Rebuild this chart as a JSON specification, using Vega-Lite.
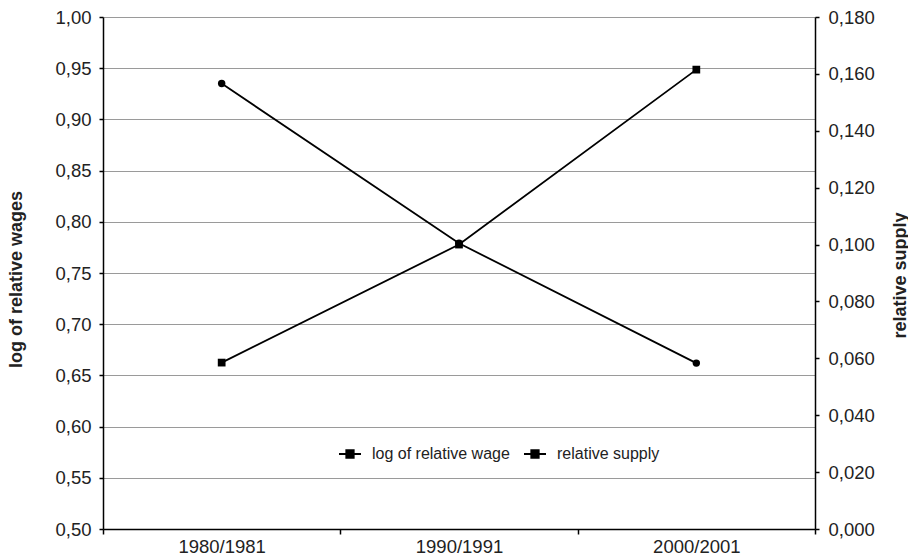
{
  "$schema": "https://vega.github.io/schema/vega-lite/v6.json",
  "autosize": {"type": "none"},
  "padding": {"left": 103, "top": 17, "right": 93, "bottom": 28},
  "width": 712,
  "height": 512,
  "background": "white",
  "config": {
    "locale": {"number": {"decimal": ",", "thousands": ".", "grouping": [3], "currency": ["", ""]}},
    "font": "Liberation Sans",
    "view": {"stroke": null},
    "axis": {
      "labelFont": "Liberation Sans",
      "labelFontSize": 18.5,
      "labelColor": "#222",
      "titleFont": "Liberation Sans",
      "titleFontSize": 18,
      "titleFontWeight": "bold",
      "titleColor": "#222",
      "domainColor": "black",
      "domainWidth": 1.5,
      "tickColor": "black",
      "tickWidth": 1.5,
      "tickSize": 4
    }
  },
  "data": {
    "values": [
      {"period": "1980/1981", "wage": 0.935, "supply": 0.0585},
      {"period": "1990/1991", "wage": 0.779, "supply": 0.100},
      {"period": "2000/2001", "wage": 0.662, "supply": 0.1615}
    ]
  },
  "encoding": {
    "x": {
      "field": "period",
      "type": "ordinal",
      "bandPosition": 0.5,
      "scale": {"type": "band", "paddingInner": 0, "paddingOuter": 0},
      "axis": {"title": null, "labelAngle": 0, "tickBand": "extent", "labelPadding": 3, "tickSize": 5, "grid": false}
    }
  },
  "layer": [
    {
      "encoding": {
        "y": {
          "field": "wage",
          "type": "quantitative",
          "scale": {"domain": [0.5, 1.0], "nice": false, "zero": false},
          "axis": {
            "title": "log of relative wages",
            "orient": "left",
            "values": [0.5, 0.55, 0.6, 0.65, 0.7, 0.75, 0.8, 0.85, 0.9, 0.95, 1.0],
            "format": ".2f",
            "grid": true,
            "gridColor": "#9a9a9a",
            "gridWidth": 1.2,
            "labelPadding": 8,
            "titleAngle": 270,
            "titleX": -87,
            "titleY": 262,
            "titleBaseline": "middle",
            "titleAlign": "center"
          }
        }
      },
      "layer": [
        {"mark": {"type": "line", "color": "black", "strokeWidth": 1.8}},
        {
          "mark": {"type": "point", "shape": "circle", "filled": true, "size": 55, "opacity": 1},
          "encoding": {
            "color": {
              "datum": "log of relative wage",
              "scale": {"domain": ["log of relative wage", "relative supply"], "range": ["black", "black"]},
              "legend": {
                "title": null,
                "orient": "none",
                "direction": "horizontal",
                "legendX": 235,
                "legendY": 425,
                "padding": 0,
                "labelFont": "Liberation Sans",
                "labelFontSize": 16,
                "labelColor": "#222",
                "labelOffset": 10,
                "columnPadding": 10,
                "symbolType": "M-1,0H1M-0.33,-0.33H0.33V0.33H-0.33Z",
                "symbolSize": 484,
                "symbolStrokeColor": "black",
                "symbolStrokeWidth": 2,
                "symbolFillColor": "black",
                "symbolOpacity": 1,
                "encode": {"symbols": {"update": {"stroke": {"value": "black"}, "strokeWidth": {"value": 2}, "fill": {"value": "black"}}}}
              }
            }
          }
        }
      ]
    },
    {
      "encoding": {
        "y": {
          "field": "supply",
          "type": "quantitative",
          "scale": {"domain": [0, 0.18], "nice": false},
          "axis": {
            "title": "relative supply",
            "orient": "right",
            "values": [0, 0.02, 0.04, 0.06, 0.08, 0.1, 0.12, 0.14, 0.16, 0.18],
            "format": ".3f",
            "grid": false,
            "labelPadding": 9,
            "titleAngle": 270,
            "titleX": 85,
            "titleY": 258,
            "titleBaseline": "middle",
            "titleAlign": "center"
          }
        }
      },
      "layer": [
        {"mark": {"type": "line", "color": "black", "strokeWidth": 1.8}},
        {
          "mark": {"type": "point", "shape": "square", "filled": true, "size": 60, "opacity": 1},
          "encoding": {"color": {"datum": "relative supply"}}
        }
      ]
    }
  ],
  "resolve": {"scale": {"y": "independent"}}
}
